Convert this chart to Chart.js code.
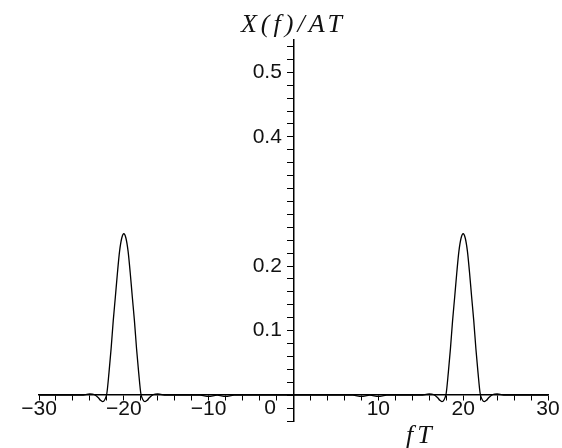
<!DOCTYPE html>
<html lang="en">
<head>
    <meta charset="UTF-8">
    <title>X(f)/AT</title>
    <script src="https://cdn.jsdelivr.net/npm/chart.js"></script>
    <style>
        body {
            margin: 0;
            background: #fff;
        }
        #wrap {
            width: 562px;
            height: 448px;
        }
    </style>
</head>
<body>
    <div id="wrap">
        <canvas id="plot" width="562" height="448"></canvas>
    </div>

    <script>
        const freq = [
            -30, -25, -24, -23.5, -23, -22.75, -22.5, -22.25,
            -22, -21.75, -21.5, -21.25, -21, -20.75, -20.5, -20.25,
            -20, -19.75, -19.5, -19.25, -19, -18.75, -18.5, -18.25,
            -18, -17.75, -17.5, -17.25, -17, -16.5, -16, -15,
            -11, -10, -9, -8, -7, 0,
            7, 8, 9, 10, 11,
            15, 16, 16.5, 17, 17.25, 17.5, 17.75,
            18, 18.25, 18.5, 18.75, 19, 19.25, 19.5, 19.75,
            20, 20.25, 20.5, 20.75, 21, 21.25, 21.5, 21.75,
            22, 22.25, 22.5, 22.75, 23, 23.5, 24, 25, 30
        ];
        const amp = [
            0, 0, 0.002, 0.001, -0.004, -0.008, -0.010, -0.007,
            0.003, 0.035, 0.072, 0.115, 0.152, 0.190, 0.223, 0.243,
            0.250, 0.243, 0.223, 0.190, 0.152, 0.115, 0.072, 0.035,
            0.003, -0.007, -0.010, -0.008, -0.004, 0.001, 0.002, 0,
            0, -0.002, 0, -0.002, 0, 0,
            0, -0.002, 0, -0.002, 0,
            0, 0.002, 0.001, -0.004, -0.008, -0.010, -0.007,
            0.003, 0.035, 0.072, 0.115, 0.152, 0.190, 0.223, 0.243,
            0.250, 0.243, 0.223, 0.190, 0.152, 0.115, 0.072, 0.035,
            0.003, -0.007, -0.010, -0.008, -0.004, 0.001, 0.002, 0, 0
        ];

        // labelled ticks (0.3 has no label in the original)
        const xLabels = [-30, -20, -10, 10, 20, 30];
        const yLabels = [0.1, 0.2, 0.4, 0.5];

        const xRange = [-30, 30];
        const yRange = [-0.04, 0.55];

        // minor ticks every 0.02 on y
        const yTicks = [];
        for (let k = -2; k <= 27; k++) yTicks.push(k / 50);

        const tickFont = { family: '"Liberation Sans", Arial, sans-serif', size: 21 };

        const axisTitles = {
            id: 'axisTitles',
            afterDraw(chart) {
                const ctx = chart.ctx;
                const x = chart.scales.x;
                ctx.save();
                ctx.fillStyle = '#111';
                ctx.font = 'italic 26px "Liberation Serif", "Times New Roman", serif';
                ctx.letterSpacing = '4px';
                ctx.textAlign = 'center';
                ctx.textBaseline = 'alphabetic';
                ctx.fillText('X(f)/AT', x.getPixelForValue(0), 32);
                ctx.fillText('fT', x.getPixelForValue(15), 443);
                ctx.restore();
            }
        };

        const pts = freq.map((f, i) => ({ x: f, y: amp[i] }));

        new Chart(document.getElementById('plot'), {
            type: 'line',
            data: {
                datasets: [{
                    data: pts,
                    borderColor: '#000',
                    borderWidth: 1.3,
                    pointRadius: 0,
                    cubicInterpolationMode: 'monotone',
                    fill: false
                }]
            },
            options: {
                responsive: false,
                animation: false,
                events: [],
                layout: { padding: { left: 39, right: 14, top: 40, bottom: 27 } },
                plugins: {
                    legend: { display: false },
                    tooltip: { enabled: false }
                },
                scales: {
                    x: {
                        type: 'linear',
                        position: { y: 0 },
                        min: xRange[0],
                        max: xRange[1],
                        afterFit: s => { s.height = 0; },
                        border: { color: '#000', width: 1.5 },
                        grid: { drawOnChartArea: false, tickLength: 5, color: '#000', lineWidth: 1 },
                        ticks: {
                            stepSize: 2,
                            autoSkip: false,
                            maxRotation: 0,
                            padding: -4,
                            color: '#111',
                            font: tickFont,
                            callback: v => xLabels.includes(v) ? String(v).replace('-', '\u2212') : ''
                        }
                    },
                    y: {
                        type: 'linear',
                        position: { x: 0 },
                        min: yRange[0],
                        max: yRange[1],
                        afterFit: s => { s.width = 0; },
                        afterBuildTicks: s => { s.ticks = yTicks.map(v => ({ value: v })); },
                        border: { color: '#000', width: 1.5 },
                        grid: { drawOnChartArea: false, tickLength: 6, color: '#000', lineWidth: 1 },
                        ticks: {
                            autoSkip: false,
                            color: '#111',
                            font: tickFont,
                            // labels sit right-aligned on the axis line, so pad with spaces
                            callback: v => {
                                const r = Math.round(v * 100) / 100;
                                if (r === 0) return ['', '0   '];
                                return yLabels.includes(r) ? String(r) + '  ' : '';
                            }
                        }
                    }
                }
            },
            plugins: [axisTitles]
        });
    </script>
</body>
</html>
